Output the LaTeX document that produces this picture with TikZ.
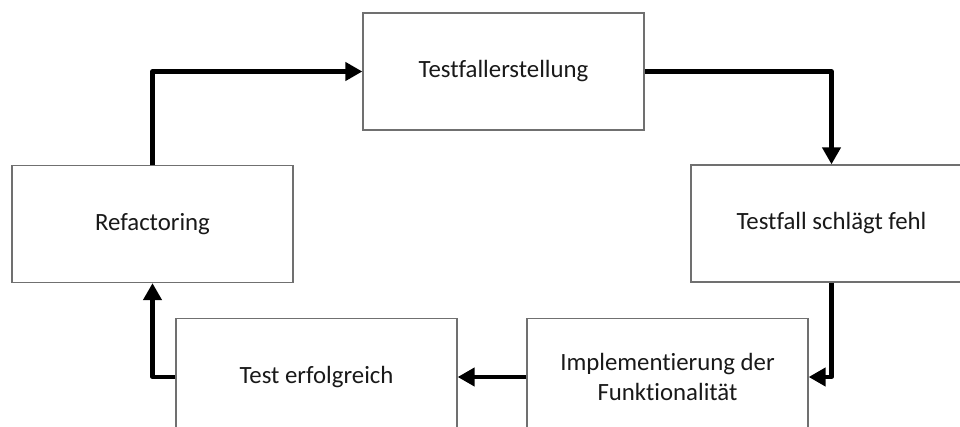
\documentclass[tikz,border=0pt]{standalone}
\usepackage{fontspec}
\setmainfont[Ligatures={NoCommon}]{Carlito}
\usetikzlibrary{arrows.meta}
\definecolor{boxline}{RGB}{112,112,112}
\definecolor{textcol}{RGB}{25,25,25}
\begin{document}
\begin{tikzpicture}[x=1pt,y=-1pt,
  stepbox/.style={draw=boxline, line width=1.3pt, fill=white,
    minimum width=281pt, minimum height=117pt, inner sep=0pt,
    align=center, text=textcol, font=\fontsize{24.8}{30}\selectfont},
  flow/.style={line width=4.2pt, line join=round, draw=black,
    -{Triangle[length=17pt,width=18pt]}}
]
\useasboundingbox (0,0) rectangle (960,427);
\clip (0,0) rectangle (960,427);

% the five stages of the cycle
\node[stepbox] (create) at (503.5,71.5) {Testfallerstellung};
\node[stepbox] (fail)   at (831.5,223.5) {Testfall schlägt fehl};
\node[stepbox] (impl)   at (667.5,377) {Implementierung der\\Funktionalität};
\node[stepbox] (pass)   at (316.5,377) {Test erfolgreich};
\node[stepbox] (refac)  at (152.5,224) {Refactoring};

% connectors closing the loop
\draw[flow] (create.east) -| (fail.north);
\draw[flow] (fail.south) |- (impl.east);
\draw[flow] (impl.west) -- (pass.east);
\draw[flow] (pass.west) -| (refac.south);
\draw[flow] (refac.north) |- (create.west);
\end{tikzpicture}
\end{document}
